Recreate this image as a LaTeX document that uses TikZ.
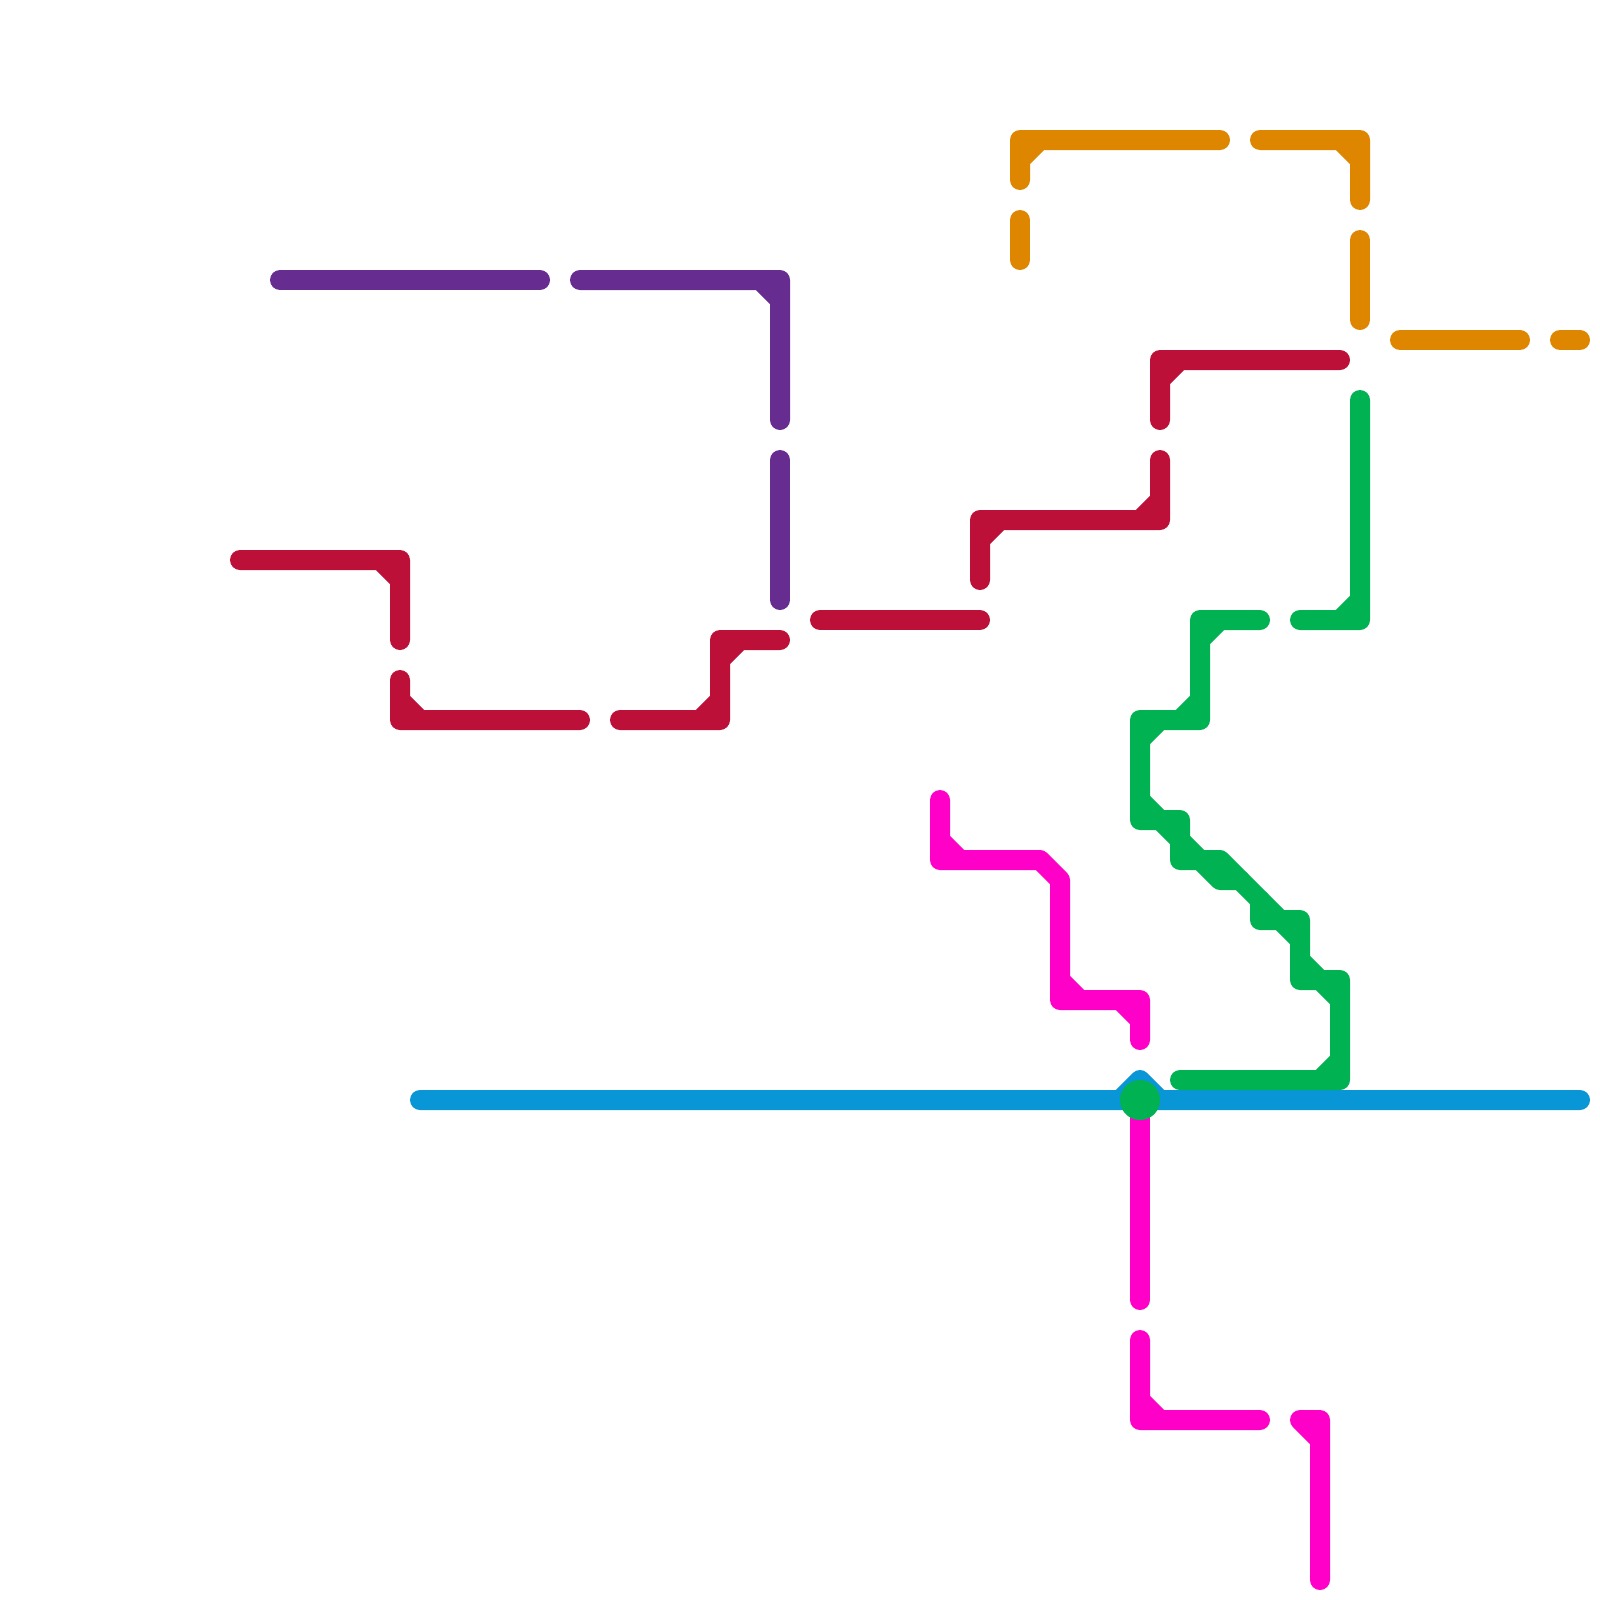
\documentclass[tikz,border=0pt]{standalone}
\usepackage{xcolor}
\usepackage{tikz}
\usetikzlibrary{shapes.geometric}
\definecolor{lineorange}{HTML}{DF8600}
\definecolor{linered}{HTML}{BD1038}
\definecolor{linepurple}{HTML}{662C90}
\definecolor{linegreen}{HTML}{00B251}
\definecolor{lineblue}{HTML}{0896D7}
\definecolor{linemagenta}{HTML}{FF00C8}

\begin{document}
\begin{tikzpicture}[
    x=1cm, y=-1cm,
    % 线路基础样式
    metro/.style={line width=1cm, line cap=round, line join=round},
    orangeline/.style={metro, draw=lineorange},
    redline/.style={metro, draw=linered},
    purpleline/.style={metro, draw=linepurple},
    greenline/.style={metro, draw=linegreen},
    blueline/.style={metro, draw=lineblue},
    magentaline/.style={metro, draw=linemagenta},
    % 换乘站
    station/.style={regular polygon, regular polygon sides=48, fill=linegreen, inner sep=0pt, minimum size=2cm}
]
\useasboundingbox (0,0) rectangle (80,80);

% 橙线
\draw[orangeline] (51,9) -- (51,7) -- (61,7) (51,8) -- (52,7);
\draw[orangeline] (51,11) -- (51,13);
\draw[orangeline] (63,7) -- (68,7) -- (68,10) (67,7) -- (68,8);
\draw[orangeline] (68,12) -- (68,16);
\draw[orangeline] (70,17) -- (76,17);
\draw[orangeline] (78,17) -- (79,17);

% 紫线
\draw[purpleline] (14,14) -- (27,14);
\draw[purpleline] (29,14) -- (39,14) -- (39,21) (38,14) -- (39,15);
\draw[purpleline] (39,23) -- (39,30);

% 红线
\draw[redline] (58,21) -- (58,18) -- (67,18) (58,19) -- (59,18);
\draw[redline] (58,23) -- (58,26) -- (49,26) -- (49,29) (57,26) -- (58,25) (49,27) -- (50,26);
\draw[redline] (41,31) -- (49,31);
\draw[redline] (39,32) -- (36,32) -- (36,36) -- (31,36) (36,33) -- (37,32) (35,36) -- (36,35);
\draw[redline] (20,34) -- (20,36) -- (29,36) (20,35) -- (21,36);
\draw[redline] (12,28) -- (20,28) -- (20,32) (19,28) -- (20,29);

% 品红线
\draw[magentaline] (47,40) -- (47,43) -- (52,43) -- (53,44) -- (53,50) -- (57,50) -- (57,52)
    (47,42) -- (48,43) (53,49) -- (54,50) (56,50) -- (57,51);
\draw[magentaline] (57,55) -- (57,65);
\draw[magentaline] (57,67) -- (57,71) -- (63,71) (57,70) -- (58,71);
\draw[magentaline] (65,71) -- (66,71) -- (66,79) (65,71) -- (66,72);

% 蓝线
\draw[blueline] (21,55) -- (79,55) (56,55) -- (57,54) -- (58,55);

% 绿线
\draw[greenline] (68,20) -- (68,31) -- (65,31) (67,31) -- (68,30);
\draw[greenline] (63,31) -- (60,31) -- (60,36) -- (57,36) -- (57,41) -- (59,41) -- (59,43) -- (61,43) -- (65,47)
    (60,32) -- (61,31) (59,36) -- (60,35) (57,37) -- (58,36);
\draw[greenline] (57,40) -- (60,43) -- (61,44) -- (62,44);
\draw[greenline] (63,45) -- (63,46) -- (65,46) -- (65,49) -- (67,49) -- (67,54) -- (59,54)
    (65,48) -- (67,50) (66,54) -- (67,53);

\node[station] (hub) at (57,55) {};

\end{tikzpicture}
\end{document}
